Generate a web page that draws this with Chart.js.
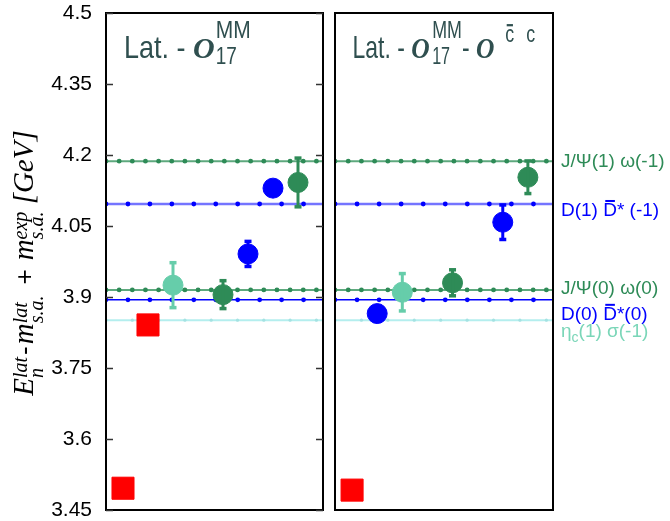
<!DOCTYPE html>
<html><head><meta charset="utf-8">
<script src="https://cdn.jsdelivr.net/npm/chart.js@4.4.1/dist/chart.umd.min.js"></script>
<style>
html,body{margin:0;padding:0;background:#fff;}
#wrap{position:relative;width:670px;height:521px;overflow:hidden;}
canvas{position:absolute;top:0;}
#c1{left:0;} #c2{left:330px;}
</style></head><body>
<div id="wrap"><canvas id="c1" width="330" height="521"></canvas><canvas id="c2" width="340" height="521"></canvas></div>
<script>
// ---------------- data ----------------
const yTickValues = [3.45, 3.6, 3.75, 3.9, 4.05, 4.2, 4.35, 4.5];
const yTickLabels = ["3.45", "3.6", "3.75", "3.9", "4.05", "4.2", "4.35", "4.5"];

// non-interacting thresholds (GeV)
const thresholdNames  = ["J/Ψ(1) ω(-1)", "D(1) D̄* (-1)", "J/Ψ(0) ω(0)", "D(0) D̄*(0)", "ηc(1) σ(-1)"];
const thresholdValues = [4.187, 4.0965, 3.915, 3.894, 3.851];

// left panel: Lat. - O17^MM   (x = level slot)
const leftRedX   = [0, 1];       const leftRedY   = [3.496, 3.841];
const leftCyanX  = [2];          const leftCyanY  = [3.925];        const leftCyanErr  = [0.048];
const leftGreenX = [4, 7];       const leftGreenY = [3.905, 4.142]; const leftGreenErr = [0.030, 0.052];
const leftBlueX  = [5, 6];       const leftBlueY  = [3.991, 4.130]; const leftBlueErr  = [0.027, 0.0];

// right panel: Lat. - O17^MM - O^{c̄c}
const rightRedX   = [0];         const rightRedY   = [3.492];
const rightBlueX  = [1, 6];      const rightBlueY  = [3.865, 4.058]; const rightBlueErr  = [0.0, 0.037];
const rightCyanX  = [2];         const rightCyanY  = [3.910];        const rightCyanErr  = [0.040];
const rightGreenX = [4, 7];      const rightGreenY = [3.930, 4.153]; const rightGreenErr = [0.028, 0.035];

// ---------------- styles ----------------
const X_MIN = -0.68, X_MAX = 8.0;
const C_GREEN = '#2e8b57', C_BLUE = '#0000ff', C_CYAN = '#66cdaa', C_RED = '#ff0000', C_TITLE = '#2f4f4f';
const thresholdStyles = [
  {line: '#5ea97e', lw: 2,   dot: C_GREEN, r: 2.4, step: 0.526, label: C_GREEN, dy: 1},
  {line: '#7474ff', lw: 2.5, dot: C_BLUE,  r: 2.4, step: 0.878, label: C_BLUE,  dy: 7},
  {line: '#5ea97e', lw: 2,   dot: C_GREEN, r: 2.4, step: 0.526, label: C_GREEN, dy: -1},
  {line: '#0000ff', lw: 1.5, dot: C_BLUE,  r: 2.4, step: 0.878, label: C_BLUE,  dy: 15},
  {line: '#b4eeee', lw: 2,   dot: '#a4e2e2', r: 1.6, step: 1.052, label: '#7ad6b8', dy: 12}
];

function pts(xs, ys) { return xs.map((x, i) => ({x: x, y: ys[i]})); }

function thresholdDatasets() {
  const out = [];
  thresholdValues.forEach((v, k) => {
    const st = thresholdStyles[k];
    const dots = [];
    for (let x = X_MIN; x <= X_MAX + 1e-9; x += st.step) dots.push({x: x, y: v});
    out.push({data: dots, showLine: false, pointRadius: st.r, pointBackgroundColor: st.dot,
              pointBorderWidth: 0, order: 20 + k});
    out.push({data: [{x: X_MIN, y: v}, {x: X_MAX + 0.1, y: v}], showLine: true, borderColor: st.line,
              borderWidth: st.lw, pointRadius: 0, order: 30 + k});
  });
  return out;
}
function pointSet(xs, ys, errs, color, style) {
  return {data: pts(xs, ys), errors: errs, showLine: false, pointStyle: style,
          pointRadius: style === 'rect' ? 15.6 : 10, pointBackgroundColor: color,
          pointBorderColor: color, pointBorderWidth: 1, order: 1};
}

// ---------------- rich text ----------------
function drawOne(ctx, q, x, y) {
  ctx.save();
  ctx.font = q.f;
  if (q.c) ctx.fillStyle = q.c;
  ctx.translate(x + (q.dx || 0), y + (q.dy || 0));
  if (q.sy) ctx.scale(1, q.sy);
  ctx.fillText(q.t, 0, 0);
  if (q.bar) {
    const w = ctx.measureText(q.t).width;
    ctx.fillRect(w * 0.15, q.bar, w * 0.7, 2);
  }
  ctx.restore();
}
function drawParts(ctx, x, y, parts, measureOnly) {
  let cx = x;
  for (const p of parts) {
    cx += p.pre || 0;
    const group = p.stack || [p];
    let w = 0;
    for (const q of group) {
      ctx.font = q.f;
      w = Math.max(w, ctx.measureText(q.t).width);
      if (!measureOnly) drawOne(ctx, q, cx, y);
    }
    cx += w + (p.gap || 0);
  }
  return cx - x;
}

const SANS = '"Liberation Sans", Arial, sans-serif';
const SERIF = '"Liberation Serif", "Times New Roman", serif';

const titleLeft = [
  {t: 'Lat. - ', f: '27px ' + SANS, sy: 1.17},
  {t: 'O', f: 'bold italic 30px ' + SERIF, gap: 1},
  {stack: [{t: 'MM', f: '21px ' + SANS, sy: 1.12, dy: -20}, {t: '17', f: '19px ' + SANS, sy: 1.22, dy: 6}]}
];
const titleRight = [
  {t: 'Lat. - ', f: '27px ' + SANS, sy: 1.17},
  {t: 'O', f: 'bold italic 30px ' + SERIF, gap: 3},
  {stack: [{t: 'MM', f: '21px ' + SANS, sy: 1.12, dy: -20}, {t: '17', f: '19px ' + SANS, sy: 1.22, dy: 6}]},
  {t: '- ', f: '27px ' + SANS, sy: 1.17},
  {t: 'O', f: 'bold italic 30px ' + SERIF, gap: 13},
  {t: 'c', f: '21px ' + SANS, sy: 1.12, dy: -16, bar: -16, gap: 14},
  {t: 'c', f: '21px ' + SANS, sy: 1.12, dy: -16}
];
const SI = 'italic 29px ' + SERIF, SS = 'italic 20px ' + SERIF;
const yTitle = [
  {t: 'E', f: SI},
  {stack: [{t: 'lat', f: SS, dy: -6}, {t: 'n', f: SS, dy: 10}], gap: 2},
  {t: '-', f: '26px ' + SANS, gap: 2},
  {t: 'm', f: SI},
  {stack: [{t: 'lat', f: SS, dy: -6}, {t: 's.a.', f: SS, dy: 10}]},
  {t: '+', f: '26px ' + SANS, pre: 11, gap: 9},
  {t: 'm', f: SI},
  {stack: [{t: 'exp', f: SS, dy: -6}, {t: 's.a.', f: SS, dy: 10}]},
  {t: ' [GeV]', f: SI}
];

// ---------------- plugins ----------------
const errorBars = {
  id: 'errorBars',
  afterDatasetsDraw(chart) {
    const ctx = chart.ctx, ys = chart.scales.y;
    chart.data.datasets.forEach((ds, di) => {
      if (!ds.errors) return;
      const meta = chart.getDatasetMeta(di);
      ds.data.forEach((d, i) => {
        const e = ds.errors[i];
        if (!e) return;
        const px = meta.data[i].x;
        const yt = ys.getPixelForValue(d.y + e), yb = ys.getPixelForValue(d.y - e);
        ctx.save();
        ctx.strokeStyle = ds.pointBackgroundColor; ctx.fillStyle = ds.pointBackgroundColor;
        ctx.lineWidth = 3;
        ctx.beginPath(); ctx.moveTo(px, yt); ctx.lineTo(px, yb); ctx.stroke();
        ctx.fillRect(px - 3.5, yt - 1.5, 7, 3.5);
        ctx.fillRect(px - 3.5, yb - 2, 7, 3.5);
        ctx.restore();
      });
    });
  }
};
function framePlugin(withTicks) {
  return {
    id: 'frame',
    afterDatasetsDraw(chart) {
      const ctx = chart.ctx, a = chart.chartArea, ys = chart.scales.y;
      ctx.save();
      ctx.strokeStyle = '#000'; ctx.lineWidth = 2;
      ctx.strokeRect(a.left, a.top, a.right - a.left, a.bottom - a.top);
      if (withTicks) {
        ctx.lineWidth = 1.5; ctx.strokeStyle = '#333';
        yTickValues.forEach(v => {
          const y = Math.round(ys.getPixelForValue(v)) + 0.5;
          ctx.beginPath(); ctx.moveTo(a.left, y); ctx.lineTo(a.left + 7, y);
          ctx.moveTo(a.right - 7, y); ctx.lineTo(a.right, y); ctx.stroke();
        });
      }
      ctx.restore();
    }
  };
}
const leftText = {
  id: 'leftText',
  afterDraw(chart) {
    const ctx = chart.ctx;
    ctx.save();
    ctx.textBaseline = 'alphabetic'; ctx.textAlign = 'left';
    ctx.fillStyle = C_TITLE;
    drawParts(ctx, 124, 58, titleLeft);
    // y-axis title (rotated)
    ctx.fillStyle = '#000';
    const W = drawParts(ctx, 0, 0, yTitle, true);
    ctx.translate(33, 263 + W / 2);
    ctx.rotate(-Math.PI / 2);
    drawParts(ctx, 0, 0, yTitle);
    ctx.restore();
  }
};
const rightText = {
  id: 'rightText',
  afterDraw(chart) {
    const ctx = chart.ctx, ys = chart.scales.y;
    ctx.save();
    ctx.textBaseline = 'alphabetic'; ctx.textAlign = 'left';
    ctx.fillStyle = C_TITLE;
    ctx.translate(22.5, 58); ctx.scale(0.85, 1);
    drawParts(ctx, 0, 0, titleRight);
    ctx.restore();
    // threshold labels
    ctx.save();
    ctx.textBaseline = 'middle';
    const F = '19px ' + SANS;
    thresholdValues.forEach((v, k) => {
      const st = thresholdStyles[k];
      const y = ys.getPixelForValue(v) + st.dy;
      ctx.fillStyle = st.label;
      const name = thresholdNames[k];
      let parts;
      if (name.startsWith('D(')) {
        const m = name.match(/^(D\(\d\) )D̄(.*)$/);
        parts = [{t: m[1], f: F}, {t: 'D', f: F, bar: -11}, {t: m[2], f: F}];
      } else if (name.startsWith('ηc')) {
        parts = [{t: 'η', f: F}, {t: 'c', f: '14px ' + SANS, dy: 6}, {t: name.slice(2), f: F}];
      } else {
        parts = [{t: name, f: F}];
      }
      drawParts(ctx, 231, y, parts);
    });
    ctx.restore();
  }
};

// ---------------- charts ----------------
function baseOptions(padding, leftAxis) {
  return {
    responsive: false, animation: false, devicePixelRatio: 1,
    layout: {padding: padding, autoPadding: false},
    plugins: {legend: {display: false}, tooltip: {enabled: false}},
    scales: {
      x: {type: 'linear', min: X_MIN, max: X_MAX, display: false},
      y: {
        type: 'linear', min: 3.45, max: 4.5, display: leftAxis,
        afterBuildTicks: s => { s.ticks = yTickValues.map(v => ({value: v})); },
        afterFit: s => { if (leftAxis) { s.width = 106; s.paddingTop = 0; s.paddingBottom = 0; } },
        grid: {display: false, drawTicks: false},
        border: {display: false},
        ticks: {
          callback: (v, i) => yTickLabels[i],
          font: {family: SANS, size: 21, lineHeight: 1},
          color: '#000', padding: 14
        }
      }
    }
  };
}

new Chart(document.getElementById('c1'), {
  type: 'scatter',
  data: {datasets: [
    pointSet(leftRedX, leftRedY, null, C_RED, 'rect'),
    pointSet(leftCyanX, leftCyanY, leftCyanErr, C_CYAN, 'circle'),
    pointSet(leftGreenX, leftGreenY, leftGreenErr, C_GREEN, 'circle'),
    pointSet(leftBlueX, leftBlueY, leftBlueErr, C_BLUE, 'circle'),
    ...thresholdDatasets()
  ]},
  options: baseOptions({left: 0, top: 13, right: 7, bottom: 11}, true),
  plugins: [errorBars, framePlugin(true), leftText]
});

new Chart(document.getElementById('c2'), {
  type: 'scatter',
  data: {datasets: [
    pointSet(rightRedX, rightRedY, null, C_RED, 'rect'),
    pointSet(rightBlueX, rightBlueY, rightBlueErr, C_BLUE, 'circle'),
    pointSet(rightCyanX, rightCyanY, rightCyanErr, C_CYAN, 'circle'),
    pointSet(rightGreenX, rightGreenY, rightGreenErr, C_GREEN, 'circle'),
    ...thresholdDatasets()
  ]},
  options: baseOptions({left: 5, top: 13, right: 117, bottom: 11}, false),
  plugins: [errorBars, framePlugin(false), rightText]
});
</script>
</body></html>
